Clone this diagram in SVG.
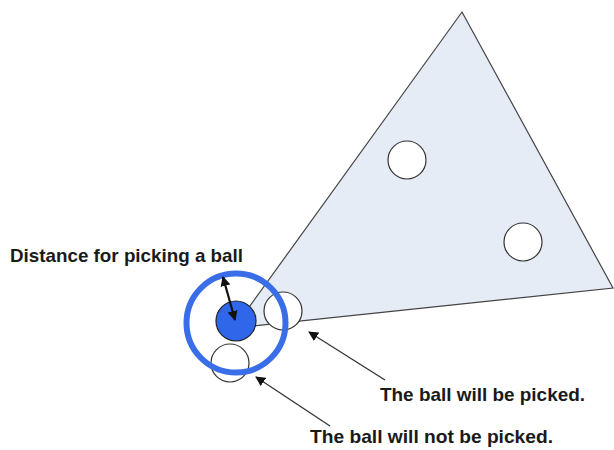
<svg xmlns="http://www.w3.org/2000/svg" width="614" height="450" viewBox="0 0 614 450">
<style>
.ball{fill:#ffffff;stroke:#333;stroke-width:1.2}
.lbl{font-family:"Liberation Sans",Arial,sans-serif;font-weight:bold;font-size:19px;fill:#1a1a1a}
.conn{stroke:#333;stroke-width:1.3;fill:none}
</style>
<defs>
<marker id="ah" viewBox="0 0 10 10" refX="9" refY="5" markerWidth="10" markerHeight="10" markerUnits="userSpaceOnUse" orient="auto-start-reverse">
<path d="M0,0 L10,5 L0,10 z" fill="#111"/>
</marker>
</defs>
<rect width="614" height="450" fill="#ffffff"/>
<g id="triangle">
<polygon points="462,12 613,288 234,328" fill="#e6ecf6" stroke="#444" stroke-width="1.2"/>
</g>
<g id="ball-top"><circle class="ball" cx="407" cy="160" r="19"/></g>
<g id="ball-right"><circle class="ball" cx="523" cy="242" r="19"/></g>
<g id="ball-picked"><circle class="ball" cx="283" cy="311" r="19"/></g>
<g id="ball-not-picked"><circle class="ball" cx="230" cy="363" r="19"/></g>
<g id="player">
<circle cx="236" cy="321" r="20" fill="#2f66ea" stroke="#222" stroke-width="1.2"/>
</g>
<g id="range">
<circle cx="236" cy="323" r="49.5" fill="none" stroke="#3a6ee9" stroke-width="6"/>
</g>
<g id="connectors">
<line x1="235" y1="320" x2="223" y2="277" stroke="#111" stroke-width="2.2" marker-start="url(#ah)" marker-end="url(#ah)"/>
<line class="conn" x1="385" y1="380" x2="309" y2="332" marker-end="url(#ah)"/>
<line class="conn" x1="330" y1="426" x2="256" y2="377" marker-end="url(#ah)"/>
</g>
<g id="labels">
<text class="lbl" x="10" y="262" textLength="233" lengthAdjust="spacingAndGlyphs">Distance for picking a ball</text>
<text class="lbl" x="380" y="401" textLength="205" lengthAdjust="spacingAndGlyphs">The ball will be picked.</text>
<text class="lbl" x="310" y="443" textLength="243" lengthAdjust="spacingAndGlyphs">The ball will not be picked.</text>
</g>
</svg>
